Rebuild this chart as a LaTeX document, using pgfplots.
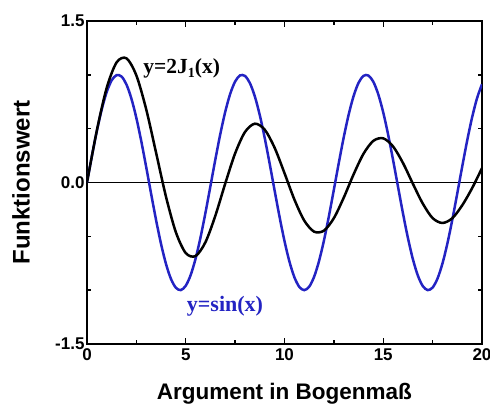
\documentclass[border=0pt]{standalone}
\usepackage{pgfplots}
\pgfplotsset{compat=1.18}
\usepackage{fontspec}
\setmainfont{Liberation Sans}
\newfontfamily\serifb{Liberation Serif}
\definecolor{myblue}{RGB}{35,35,195}
\begin{document}
\begin{tikzpicture}
\path[use as bounding box] (-87pt,-62pt) rectangle (403pt,344pt);
\begin{axis}[
  at={(0,0)}, anchor=south west,
  scale only axis, width=395pt, height=323pt,
  xmin=0, xmax=20, ymin=-1.5, ymax=1.5,
  xtick={0,5,10,15,20}, minor xtick={2.5,7.5,12.5,17.5},
  ytick={-1.5,0,1.5}, minor ytick={-1,-0.5,0.5,1},
  yticklabels={-1.5,0.0,1.5},
  tick align=inside, tick pos=both,
  major tick length=6pt, minor tick length=4pt,
  every tick/.style={black, line width=1.5pt},
  axis line style={line width=1.8pt},
  /pgf/number format/assume math mode=true,
  tick label style={font=\bfseries\fontsize{17}{17}\selectfont},
  xticklabel style={yshift=-1pt},
  yticklabel style={xshift=1pt},
  xlabel={Argument in Bogenmaß},
  ylabel={Funktionswert},
  xlabel style={font=\bfseries\fontsize{22.5}{22.5}\selectfont, at={(axis description cs:0.5,-0.172)}, anchor=base},
  ylabel style={font=\bfseries\fontsize{24}{24}\selectfont, at={(axis description cs:-0.167,0.5)}, anchor=center},
  clip=true,
]
\addplot[black, line width=0.8pt] coordinates {(0,0) (20,0)};
\addplot[myblue, line width=2.5pt, smooth] coordinates {
(0,0) (0.25,0.2474) (0.5,0.4794) (0.75,0.6816) (1,0.8415) (1.25,0.9490) (1.5,0.9975) (1.75,0.9840)
(2,0.9093) (2.25,0.7781) (2.5,0.5985) (2.75,0.3817) (3,0.1411) (3.25,-0.1082) (3.5,-0.3508) (3.75,-0.5716)
(4,-0.7568) (4.25,-0.8950) (4.5,-0.9775) (4.75,-0.9993) (5,-0.9589) (5.25,-0.8589) (5.5,-0.7055) (5.75,-0.5083)
(6,-0.2794) (6.25,-0.0332) (6.5,0.2151) (6.75,0.4500) (7,0.6570) (7.25,0.8231) (7.5,0.9380) (7.75,0.9946)
(8,0.9894) (8.25,0.9226) (8.5,0.7985) (8.75,0.6247) (9,0.4121) (9.25,0.1739) (9.5,-0.0752) (9.75,-0.3195)
(10,-0.5440) (10.25,-0.7347) (10.5,-0.8797) (10.75,-0.9700) (11,-1.0000) (11.25,-0.9678) (11.5,-0.8755) (11.75,-0.7287)
(12,-0.5366) (12.25,-0.3111) (12.5,-0.0663) (12.75,0.1826) (13,0.4202) (13.25,0.6316) (13.5,0.8038) (13.75,0.9260)
(14,0.9906) (14.25,0.9936) (14.5,0.9349) (14.75,0.8180) (15,0.6503) (15.25,0.4421) (15.5,0.2065) (15.75,-0.0420)
(16,-0.2879) (16.25,-0.5159) (16.5,-0.7118) (16.75,-0.8634) (17,-0.9614) (17.25,-0.9996) (17.5,-0.9756) (17.75,-0.8910)
(18,-0.7510) (18.25,-0.5643) (18.5,-0.3425) (18.75,-0.0994) (19,0.1499) (19.25,0.3898) (19.5,0.6055) (19.75,0.7836)
(20,0.9129)
};
\addplot[black, line width=2.5pt, smooth] coordinates {
(0,0) (0.5,0.4845) (1,0.8801) (1.5,1.1159) (2,1.1534) (2.5,0.9942) (3,0.6781) (3.5,0.2748)
(4,-0.1321) (4.5,-0.4621) (5,-0.6552) (5.5,-0.6829) (6,-0.5534) (6.5,-0.3077) (7,-0.0094) (7.5,0.2705)
(8,0.4693) (8.5,0.5462) (9,0.4906) (9.5,0.3225) (10,0.0869) (10.5,-0.1577) (11,-0.3536) (11.5,-0.4567)
(12,-0.4469) (12.5,-0.3310) (13,-0.1406) (13.5,0.0760) (14,0.2668) (14.5,0.3869) (15,0.4102) (15.5,0.3344)
(16,0.1808) (16.5,-0.0114) (17,-0.1953) (17.5,-0.3308) (18,-0.3760) (18.5,-0.3312) (19,-0.2114) (19.5,-0.0525)
(20,0.1337)
};
\node[anchor=base west, inner sep=0pt, font=\serifb\bfseries\fontsize{21.5}{21.5}\selectfont] at (axis cs:2.85,1.01) {y=2J\raisebox{-0.35ex}{\fontsize{14}{14}\selectfont 1}(x)};
\node[anchor=base west, inner sep=0pt, font=\serifb\bfseries\fontsize{22}{22}\selectfont, text=myblue] at (axis cs:5.05,-1.2) {y=sin(x)};
\end{axis}
\end{tikzpicture}
\end{document}
